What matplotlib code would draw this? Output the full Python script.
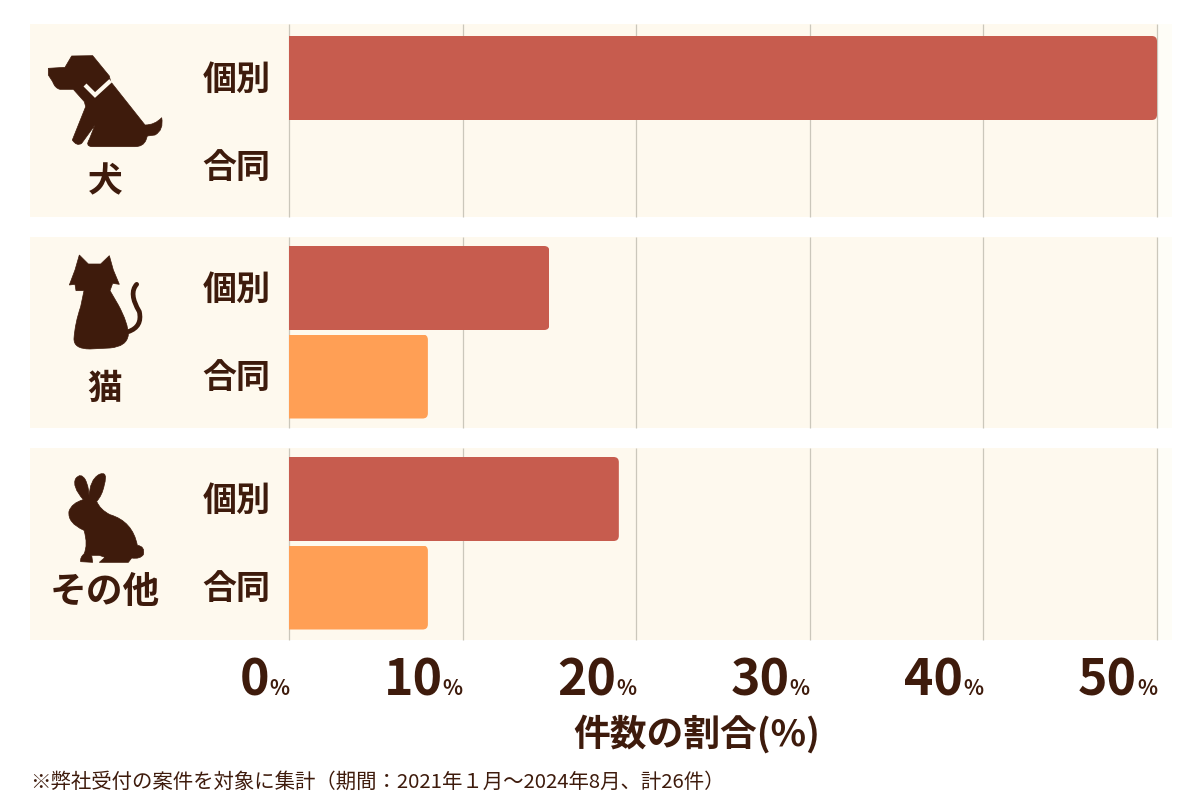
import matplotlib
matplotlib.use('Agg')
import matplotlib.pyplot as plt
from matplotlib.patches import FancyBboxPatch, PathPatch, Rectangle
from matplotlib.path import Path

plt.rcParams['font.family'] = ['Noto Sans CJK JP', 'DejaVu Sans']

animals = ['犬', '猫', 'その他']
kinds = ['個別', '合同']
kobetsu = [50, 15, 19]
goudou = [0, 8, 8]
xticks = [0, 10, 20, 30, 40, 50]
xlabel = '件数の割合(%)'
note = '※弊社受付の案件を対象に集計（期間：2021年１月～2024年8月、計26件）'

BAR_RED = '#c75c4e'
BAR_ORANGE = '#ff9f55'
PANEL = '#fef9ee'
PANEL_EDGE = '#fefdf7'
GRID = '#cbc7bb'
INK = '#3e1b0c'

PX_PER_PCT = 868 / 50
panel_tops = [24, 237, 448]
panel_bottoms = [217, 428, 640]
bar_tops = [36, 246, 457]
BAR_H = 84
BAR_STEP = 88.5

# icon outlines, sketched at 3x: (x, y) is a line to, (x, y, 1) a curve control point
dog = [(25, 55), (75, 52), (95, 18), (158, 17), (208, 78), (212, 95), (315, 225),
       (345, 225, 1), (365, 203), (372, 240, 1), (345, 255), (322, 258), (318, 270),
       (310, 290, 1), (285, 290), (155, 290), (135, 288, 1), (148, 268), (165, 225),
       (125, 280), (110, 290, 1), (97, 270), (137, 170), (133, 155), (100, 118), (60, 118),
       (45, 115, 1), (38, 95), (25, 75)]
collar = [(135, 105), (165, 135), (212, 92)]
cat = [(58, 15), (85, 42), (122, 42), (148, 17), (160, 60), (178, 103), (158, 100),
       (150, 122), (175, 165), (205, 220, 1), (205, 255), (200, 290, 1), (150, 294),
       (90, 297), (40, 297, 1), (42, 265), (45, 220, 1), (62, 170), (72, 122), (48, 122),
       (45, 103), (28, 105), (45, 60)]
cat_tail = [(205, 245), (248, 230, 1), (238, 185), (205, 130, 1), (230, 103)]
rabbit = [(70, 95), (35, 55, 1), (47, 32), (62, 12, 1), (76, 35), (88, 60, 1), (87, 90),
          (88, 35, 1), (118, 19), (145, 8, 1), (133, 50), (127, 82, 1), (110, 100),
          (120, 125, 1), (150, 140), (218, 160, 1), (232, 232), (256, 235, 1), (250, 260),
          (240, 274, 1), (215, 270), (205, 283), (118, 283), (135, 268), (118, 262),
          (95, 262), (98, 283), (62, 281), (60, 268, 1), (72, 258), (85, 230, 1), (72, 187),
          (22, 165, 1), (27, 130), (35, 105, 1), (70, 95)]


def outline(pts, dx, dy, closed=True):
    verts, codes = [], []
    for n, p in enumerate(pts):
        verts.append((p[0] / 3 + dx, p[1] / 3 + dy))
        if n == 0:
            codes.append(Path.MOVETO)
        elif len(p) == 3 or len(pts[n - 1]) == 3:
            codes.append(Path.CURVE3)
        else:
            codes.append(Path.LINETO)
    if closed:
        verts.append(verts[0])
        codes.append(Path.CLOSEPOLY)
    return Path(verts, codes)


fig = plt.figure(figsize=(12, 8), dpi=100, facecolor='white')

# bars share pixel rows on y so the panels and labels line up easily
ax = fig.add_axes([289 / 1200, 0, 868 / 1200, 1])
ax.set_xlim(0, 50)
ax.set_ylim(800, 0)
ax.axis('off')
ax.patch.set_visible(False)

# full canvas layer for the icons and text
top = fig.add_axes([0, 0, 1, 1], zorder=3)
top.set_xlim(0, 1200)
top.set_ylim(800, 0)
top.axis('off')
top.patch.set_visible(False)

for t, b in zip(panel_tops, panel_bottoms):
    ax.add_patch(Rectangle((-259 / PX_PER_PCT, t), (1157 - 30) / PX_PER_PCT, b - t,
                           facecolor=PANEL, edgecolor='none', zorder=0, clip_on=False))
    ax.add_patch(Rectangle((50, t), 15 / PX_PER_PCT, b - t,
                           facecolor=PANEL_EDGE, edgecolor='none', zorder=0, clip_on=False))
    ax.vlines(xticks, t, b, color=GRID, lw=0.9, zorder=1, clip_on=False)

for i, bt in enumerate(bar_tops):
    for j, (val, col) in enumerate(zip([kobetsu[i], goudou[i]], [BAR_RED, BAR_ORANGE])):
        y = bt + j * BAR_STEP
        top.text(236.5, y + BAR_H / 2 + 1, kinds[j], fontsize=24.5, fontweight='bold',
                 color=INK, ha='center', va='center')
        if val == 0:
            continue
        bar = ax.barh(y + BAR_H / 2, val, height=BAR_H, color=col, zorder=2)[0]
        # rounded right end only, left side runs past the clip
        clip = FancyBboxPatch((-1, y), val + 1, BAR_H,
                              boxstyle='round,pad=0,rounding_size=0.3',
                              mutation_aspect=PX_PER_PCT, transform=ax.transData)
        bar.set_clip_path(clip)

top.add_patch(PathPatch(outline(dog, 40, 50), facecolor=INK, edgecolor=INK, lw=0.5))
top.add_patch(PathPatch(outline(collar, 40, 50, closed=False), facecolor='none',
                        edgecolor=PANEL, lw=3.0, capstyle='butt', joinstyle='miter'))
top.add_patch(PathPatch(outline(cat, 60, 250), facecolor=INK, edgecolor=INK, lw=0.5))
top.add_patch(PathPatch(outline(cat_tail, 60, 250, closed=False), facecolor='none',
                        edgecolor=INK, lw=3.4, capstyle='round'))
top.add_patch(PathPatch(outline(rabbit, 60, 468), facecolor=INK, edgecolor=INK, lw=0.5))

for name, y, size in zip(animals, [182, 388, 593], [25, 25, 26.5]):
    top.text(105, y, name, fontsize=size, fontweight='bold', color=INK, ha='center', va='center')

for tick in xticks:
    x = 289 + tick * PX_PER_PCT
    top.text(x, 695, '%', fontsize=15, fontweight='bold', color=INK, ha='right', va='baseline')
    top.text(x - 20, 695, str(tick), fontsize=36, fontweight='bold', color=INK, ha='right', va='baseline')

top.text(697, 734, xlabel, fontsize=26.5, fontweight='bold', color=INK, ha='center', va='center')
top.text(30, 782, note, fontsize=14.7, color=INK, ha='left', va='center')

plt.savefig('out.png', dpi=100)
